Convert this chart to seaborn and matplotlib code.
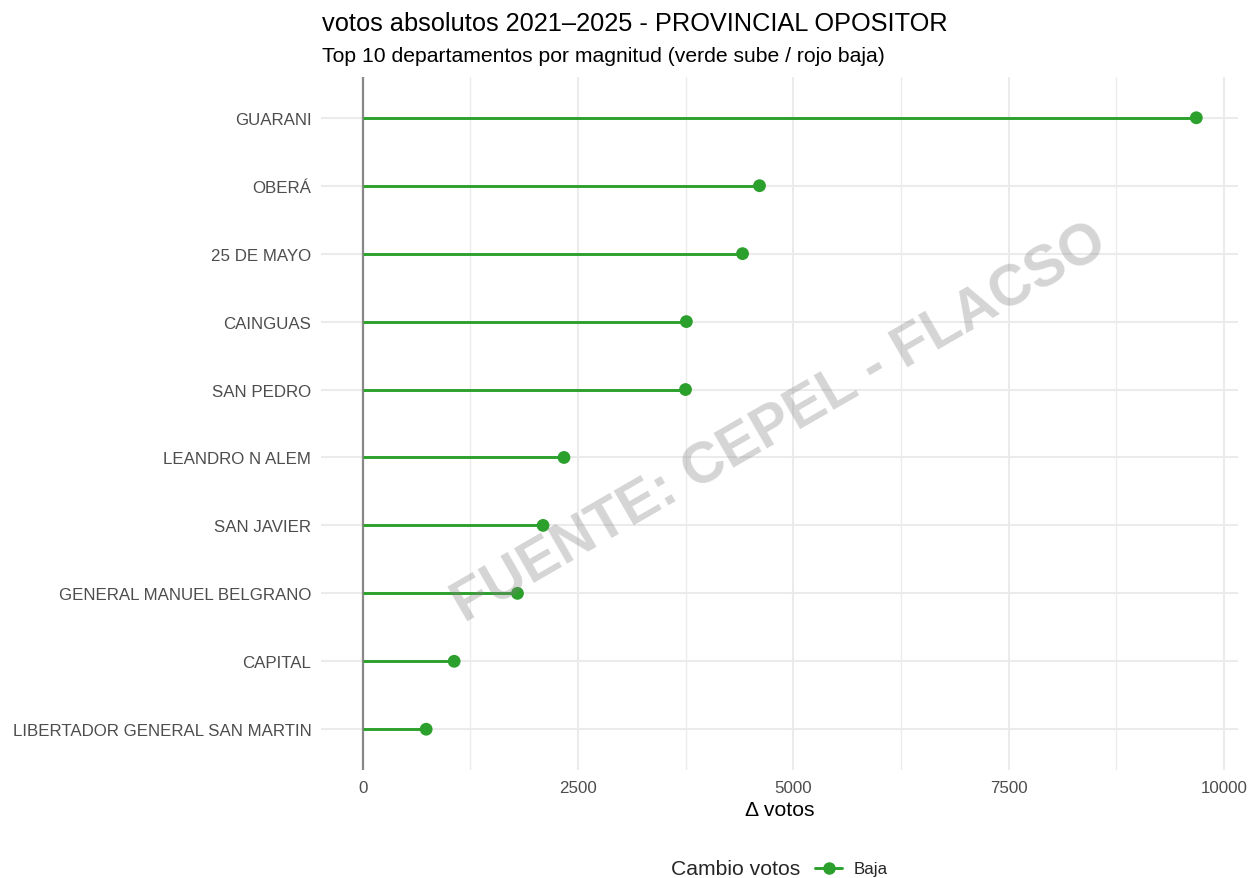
import numpy as np
import pandas as pd
import matplotlib
matplotlib.use("Agg")
import matplotlib.pyplot as plt
from matplotlib.lines import Line2D
import seaborn as sns

# ---- data ----
departamentos = ["GUARANI", "OBERÁ", "25 DE MAYO", "CAINGUAS", "SAN PEDRO",
                 "LEANDRO N ALEM", "SAN JAVIER", "GENERAL MANUEL BELGRANO",
                 "CAPITAL", "LIBERTADOR GENERAL SAN MARTIN"]
delta_votos = [9678, 4607, 4410, 3758, 3748, 2337, 2094, 1797, 1062, 737]
cambio = ["Baja"] * len(departamentos)
x_ticks = [0, 2500, 5000, 7500, 10000]
x_tick_labels = ["0", "2500", "5000", "7500", "10000"]

title = "votos absolutos 2021–2025 - PROVINCIAL OPOSITOR"
subtitle = "Top 10 departamentos por magnitud (verde sube / rojo baja)"
watermark = "FUENTE: CEPEL - FLACSO"

GREEN = "#2CA02C"

sns.set_theme(style="white")
plt.rcParams["font.family"] = ["Liberation Sans", "DejaVu Sans"]

df = pd.DataFrame({"depto": departamentos, "delta": delta_votos, "cambio": cambio})
n = len(df)
df["ypos"] = np.arange(n, 0, -1)

fig = plt.figure(figsize=(12.51, 8.79), dpi=100)
W, H = 1251, 879
ax = fig.add_axes([321 / W, 1 - 771 / H, (1238 - 321) / W, (771 - 78) / H])

xmax = df["delta"].max()
ax.set_xlim(-0.05 * xmax, 1.05 * xmax)
ax.set_ylim(0.4, n + 0.6)

# grid
ax.set_xticks(x_ticks)
ax.set_xticks([1250, 3750, 6250, 8750], minor=True)
ax.set_yticks(df["ypos"])
ax.grid(which="major", axis="both", color="#EBEBEB", linewidth=1.5, zorder=0)
ax.grid(which="minor", axis="x", color="#EBEBEB", linewidth=1.0, zorder=0)
ax.set_axisbelow(True)
for s in ax.spines.values():
    s.set_visible(False)

# zero line
ax.axvline(0, color="#888888", linewidth=1.6, zorder=1)

# stems + points
ax.hlines(y=df["ypos"], xmin=0, xmax=df["delta"], color=GREEN, linewidth=2.1, zorder=2)
sns.scatterplot(data=df, x="delta", y="ypos", color=GREEN, s=85, edgecolor="none",
                ax=ax, zorder=3, legend=False)

ax.set_xticklabels(x_tick_labels)
ax.set_yticklabels(df["depto"])
ax.tick_params(axis="both", which="both", length=0, labelsize=12.2, labelcolor="#4D4D4D")
ax.tick_params(axis="y", pad=7)
ax.tick_params(axis="x", pad=7)
ax.set_xlabel("Δ votos", fontsize=15.2, color="black", labelpad=4)
ax.set_ylabel("")

# watermark
ax.text(0.5, 0.5, watermark, transform=ax.transAxes, rotation=30,
        fontsize=41.5, fontweight="bold", color="#808080", alpha=0.33,
        ha="center", va="center", zorder=5, rotation_mode="anchor")

# titles
fig.text(322 / W, 1 - 24 / H, title, fontsize=18.3, color="black", ha="left", va="center")
fig.text(322 / W, 1 - 57 / H, subtitle, fontsize=15.2, color="black", ha="left", va="center")

# legend
fig.text(800 / W, 1 - 870 / H, "Cambio votos", fontsize=15.2, ha="right", va="center")
handle = Line2D([], [], color=GREEN, linewidth=2.1, marker="o", markersize=8)
leg = fig.legend(handles=[handle], labels=["Baja"], loc="center left",
                 bbox_to_anchor=(815 / W, 1 - 870 / H), frameon=False,
                 fontsize=12.2, handlelength=1.6, handletextpad=0.7,
                 borderaxespad=0, borderpad=0)

fig.savefig("out.png", dpi=100, facecolor="white")
